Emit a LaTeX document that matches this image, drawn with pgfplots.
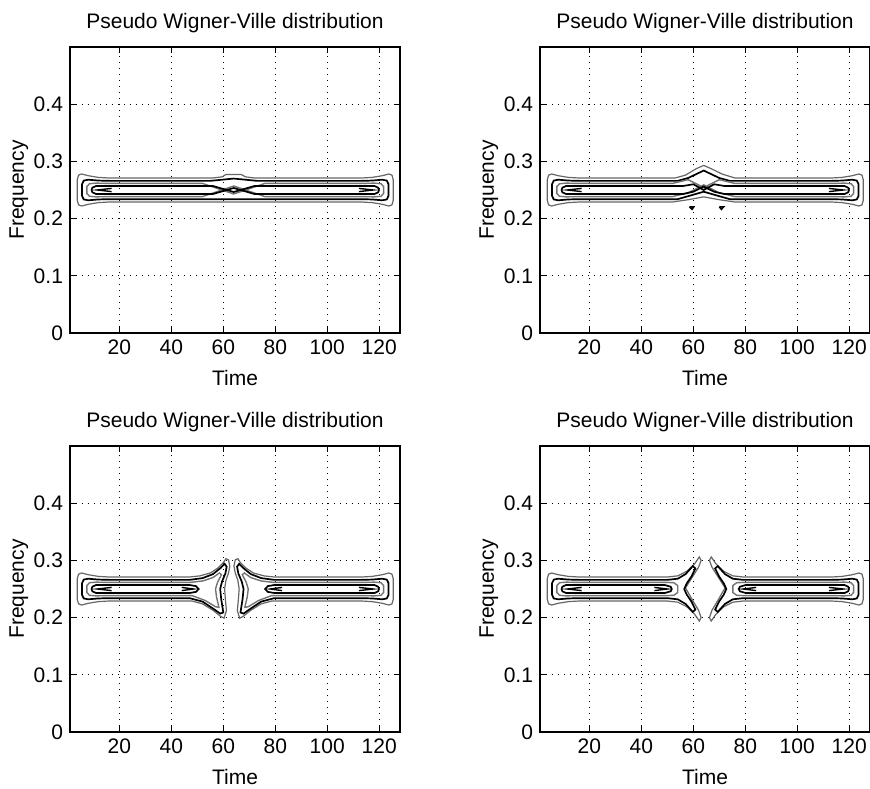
\documentclass[border=0pt]{standalone}
\usepackage{fontspec}
\setmainfont{Liberation Sans}
\usepackage{pgfplots}
\pgfplotsset{compat=1.18}

\pgfplotsset{
  pwv/.style={
    scale only axis, width=165pt, height=143pt,
    xmin=1, xmax=128, ymin=0, ymax=0.5,
    xtick={20,40,...,120}, ytick={0,0.1,0.2,0.3,0.4},
    grid=major,
    major grid style={black, line width=0.5pt, dash pattern=on 0.7pt off 2.3pt},
    tick align=inside, major tick length=3pt,
    axis line style={black, line width=0.6pt},
    every tick/.style={black, line width=0.5pt},
    /pgf/number format/assume math mode=true,
    tick label style={font=\fontsize{10.5}{12}\selectfont},
    label style={font=\fontsize{10.5}{12}\selectfont},
    title={Pseudo Wigner-Ville distribution},
    title style={font=\fontsize{10.5}{12}\selectfont, at={(axis description cs:0.5,1)}, anchor=base, yshift=3.3pt},
    xlabel={Time}, ylabel={Frequency},
    xlabel style={at={(axis description cs:0.5,0)}, anchor=base, yshift=-26pt},
    ylabel style={at={(axis description cs:-0.105,0.5)}, anchor=south},
  },
  l1/.style={black!60, line width=0.6pt},
  l2/.style={black, line width=0.85pt},
  l3/.style={black!55, line width=0.7pt},
  l4/.style={black, line width=0.85pt},
  l5/.style={black, line width=0.7pt},
}

\begin{document}
\begin{tikzpicture}
\path[use as bounding box] (-35pt,-28pt) rectangle (400pt,366pt);

%% panel 1
\begin{axis}[pwv, at={(0pt,199.5pt)}]
\addplot[l1] coordinates {(16,0.271) (56,0.271) (59.5,0.273) (61,0.277) (67,0.277) (68.5,0.273) (72,0.271)
 (113.2,0.271) (117.2,0.272) (121.2,0.275) (123.7,0.278) (124.9,0.276) (125.4,0.268) (125.4,0.232) (124.9,0.224) (123.7,0.222) (121.2,0.225) (117.2,0.228) (113.2,0.229)
 (16,0.229) (12,0.228) (8,0.225) (5.5,0.222) (4.3,0.224) (3.8,0.232) (3.8,0.268) (4.3,0.276) (5.5,0.278) (8,0.275) (12,0.272) (16,0.271)};
\addplot[l2] coordinates {(16,0.266) (55,0.266) (64,0.270) (73,0.266)
 (113.2,0.266) (117.2,0.2665) (121.2,0.268) (122.9,0.2665) (123.6,0.26) (123.6,0.24) (122.9,0.2335) (121.2,0.232) (117.2,0.2335) (113.2,0.234)
 (16,0.234) (12,0.2335) (8,0.232) (6.3,0.2335) (5.6,0.24) (5.6,0.26) (6.3,0.2665) (8,0.268) (12,0.2665) (16,0.266)};
\addplot[l3] coordinates {(16,0.2615) (52,0.2615) (64,0.243) (76,0.2615)
 (113.2,0.2615) (118.2,0.262) (120.7,0.261) (121.7,0.256) (121.7,0.244) (120.7,0.239) (118.2,0.238) (113.2,0.2385)
 (76,0.2385) (64,0.257) (52,0.2385)
 (16,0.2385) (11,0.238) (8.5,0.239) (7.5,0.244) (7.5,0.256) (8.5,0.261) (11,0.262) (16,0.2615)};
\addplot[l4] coordinates {(16,0.257) (56,0.257) (64,0.2465) (72,0.257)
 (113.2,0.257) (118.2,0.257) (119.6,0.254) (119.9,0.25) (119.6,0.246) (118.2,0.243) (113.2,0.243)
 (72,0.243) (64,0.2535) (56,0.243)
 (16,0.243) (11,0.243) (9.6,0.246) (9.3,0.25) (9.6,0.254) (11,0.257) (16,0.257)};
\addplot[l5] coordinates {(17,0.2528) (11.5,0.25) (17,0.2472)};
\addplot[l5] coordinates {(112.2,0.2528) (117.7,0.25) (112.2,0.2472)};
\end{axis}

%% panel 2
\begin{axis}[pwv, at={(235pt,199.5pt)}]
\addplot[l1] coordinates {(16,0.271) (53,0.271) (57,0.276) (61,0.287) (64,0.293) (67,0.287) (71,0.278) (76,0.271)
 (113.2,0.271) (117.2,0.272) (121.2,0.275) (123.7,0.278) (124.9,0.276) (125.4,0.268) (125.4,0.232) (124.9,0.224) (123.7,0.222) (121.2,0.225) (117.2,0.228) (113.2,0.229)
 (76,0.229) (70,0.233) (64,0.238) (58,0.233) (52,0.229)
 (16,0.229) (12,0.228) (8,0.225) (5.5,0.222) (4.3,0.224) (3.8,0.232) (3.8,0.268) (4.3,0.276) (5.5,0.278) (8,0.275) (12,0.272) (16,0.271)};
\addplot[l2] coordinates {(16,0.266) (54,0.266) (58,0.271) (64,0.284) (70,0.271) (74,0.266)
 (113.2,0.266) (117.2,0.2665) (121.2,0.268) (122.9,0.2665) (123.6,0.26) (123.6,0.24) (122.9,0.2335) (121.2,0.232) (117.2,0.2335) (113.2,0.234)
 (74,0.234) (64,0.247) (54,0.234)
 (16,0.234) (12,0.2335) (8,0.232) (6.3,0.2335) (5.6,0.24) (5.6,0.26) (6.3,0.2665) (8,0.268) (12,0.2665) (16,0.266)};
\addplot[l3] coordinates {(16,0.2615) (52,0.2615) (58,0.268) (64,0.2545) (70,0.268) (76,0.2615)
 (113.2,0.2615) (118.2,0.262) (120.7,0.261) (121.7,0.256) (121.7,0.244) (120.7,0.239) (118.2,0.238) (113.2,0.2385)
 (76,0.2385) (70,0.245) (64,0.259) (58,0.245) (52,0.2385)
 (16,0.2385) (11,0.238) (8.5,0.239) (7.5,0.244) (7.5,0.256) (8.5,0.261) (11,0.262) (16,0.2615)};
\addplot[l4] coordinates {(16,0.257) (56,0.257) (60,0.26) (64,0.25) (68,0.26) (72,0.257)
 (113.2,0.257) (118.2,0.257) (119.6,0.254) (119.9,0.25) (119.6,0.246) (118.2,0.243) (113.2,0.243)
 (72,0.243) (68,0.247) (64,0.256) (60,0.247) (56,0.243)
 (16,0.243) (11,0.243) (9.6,0.246) (9.3,0.25) (9.6,0.254) (11,0.257) (16,0.257)};
\addplot[l5] coordinates {(17,0.2528) (11.5,0.25) (17,0.2472)};
\addplot[l5] coordinates {(112.2,0.2528) (117.7,0.25) (112.2,0.2472)};
\addplot[l5] coordinates {(58.5,0.2205) (60.2,0.2205) (59.5,0.216) (58.5,0.2205)};
\addplot[l5] coordinates {(70,0.2205) (71.7,0.2205) (70.8,0.216) (70,0.2205)};
\end{axis}

%% panel 3
\begin{axis}[pwv, at={(0pt,0pt)}]
\addplot[l1] coordinates {(16,0.271) (47,0.271) (51,0.273) (55,0.278) (58,0.287) (60,0.296) (61,0.303) (62,0.301) (62.5,0.29) (62,0.278) (61,0.265) (60.5,0.25) (60.8,0.232) (61.2,0.212) (60.3,0.199) (59,0.202) (56,0.213) (52,0.224) (48,0.229)
 (16,0.229) (12,0.228) (8,0.225) (5.5,0.222) (4.3,0.224) (3.8,0.232) (3.8,0.268) (4.3,0.276) (5.5,0.278) (8,0.275) (12,0.272) (16,0.271)};
\addplot[l1] coordinates {(79.6,0.271)
 (113.2,0.271) (117.2,0.272) (121.2,0.275) (123.7,0.278) (124.9,0.276) (125.4,0.268) (125.4,0.232) (124.9,0.224) (123.7,0.222) (121.2,0.225) (117.2,0.228) (113.2,0.229)
 (78.6,0.229) (74.6,0.224) (70.6,0.213) (67.6,0.202) (66.3,0.199) (65.4,0.212) (65.8,0.232) (66.1,0.25) (65.6,0.265) (64.6,0.278) (64.1,0.29) (64.6,0.301) (65.6,0.303) (66.6,0.296) (68.6,0.287) (71.6,0.278) (75.6,0.273) (79.6,0.271)};
\addplot[l2] coordinates {(16,0.266) (47,0.266) (52,0.269) (56,0.276) (59,0.287) (60.5,0.294) (61.3,0.289) (60.8,0.277) (59.5,0.263) (58.8,0.25) (59.2,0.232) (60,0.209) (58.8,0.207) (56,0.216) (52,0.228) (47,0.234)
 (16,0.234) (12,0.2335) (8,0.232) (6.3,0.2335) (5.6,0.24) (5.6,0.26) (6.3,0.2665) (8,0.268) (12,0.2665) (16,0.266)};
\addplot[l2] coordinates {(79.6,0.266)
 (113.2,0.266) (117.2,0.2665) (121.2,0.268) (122.9,0.2665) (123.6,0.26) (123.6,0.24) (122.9,0.2335) (121.2,0.232) (117.2,0.2335) (113.2,0.234)
 (79.6,0.234) (74.6,0.228) (70.6,0.216) (67.8,0.207) (66.6,0.209) (67.4,0.232) (67.8,0.25) (67.1,0.263) (65.8,0.277) (65.3,0.289) (66.1,0.294) (67.6,0.287) (70.6,0.276) (74.6,0.269) (79.6,0.266)};
\addplot[l3] coordinates {(16,0.2615) (47,0.2615) (52,0.264) (56,0.27) (58.5,0.278) (59.3,0.275) (57.8,0.262) (57,0.25) (57.4,0.236) (58.3,0.218) (57,0.219) (53,0.23) (48,0.2385)
 (16,0.2385) (11,0.238) (8.5,0.239) (7.5,0.244) (7.5,0.256) (8.5,0.261) (11,0.262) (16,0.2615)};
\addplot[l3] coordinates {(79.6,0.2615)
 (113.2,0.2615) (118.2,0.262) (120.7,0.261) (121.7,0.256) (121.7,0.244) (120.7,0.239) (118.2,0.238) (113.2,0.2385)
 (78.6,0.2385) (73.6,0.23) (69.6,0.219) (68.3,0.218) (69.2,0.236) (69.6,0.25) (68.8,0.262) (67.3,0.275) (68.1,0.278) (70.6,0.27) (74.6,0.264) (79.6,0.2615)};
\addplot[l4] coordinates {(16,0.257) (47,0.257) (49.5,0.255) (50.5,0.25) (49.5,0.245) (47,0.243)
 (16,0.243) (11,0.243) (9.6,0.246) (9.3,0.25) (9.6,0.254) (11,0.257) (16,0.257)};
\addplot[l4] coordinates {(79.6,0.257)
 (113.2,0.257) (118.2,0.257) (119.6,0.254) (119.9,0.25) (119.6,0.246) (118.2,0.243) (113.2,0.243)
 (79.6,0.243) (77.1,0.245) (76.1,0.25) (77.1,0.255) (79.6,0.257)};
\addplot[l5] coordinates {(17,0.2528) (11.5,0.25) (17,0.2472)};
\addplot[l5] coordinates {(112.2,0.2528) (117.7,0.25) (112.2,0.2472)};
\addplot[l5] coordinates {(44,0.2528) (48.5,0.25) (44,0.2472)};
\addplot[l5] coordinates {(82.6,0.2528) (78.1,0.25) (82.6,0.2472)};
\end{axis}

%% panel 4
\begin{axis}[pwv, at={(235pt,0pt)}]
\addplot[l1] coordinates {(16,0.271) (50,0.271) (54,0.273) (57.5,0.281) (60.5,0.294) (62.3,0.306) (63,0.3) (62,0.288) (59.5,0.27) (57,0.252) (59.5,0.232) (62,0.213) (63,0.2) (62.3,0.194) (60.5,0.206) (57.5,0.219) (54,0.227) (50,0.229)
 (16,0.229) (12,0.228) (8,0.225) (5.5,0.222) (4.3,0.224) (3.8,0.232) (3.8,0.268) (4.3,0.276) (5.5,0.278) (8,0.275) (12,0.272) (16,0.271)};
\addplot[l1] coordinates {(79.2,0.271)
 (113.2,0.271) (117.2,0.272) (121.2,0.275) (123.7,0.278) (124.9,0.276) (125.4,0.268) (125.4,0.232) (124.9,0.224) (123.7,0.222) (121.2,0.225) (117.2,0.228) (113.2,0.229)
 (79.2,0.229) (75.2,0.227) (71.7,0.219) (68.7,0.206) (66.9,0.194) (66.2,0.2) (67.2,0.213) (69.7,0.232) (72.2,0.252) (69.7,0.27) (67.2,0.288) (66.2,0.3) (66.9,0.306) (68.7,0.294) (71.7,0.281) (75.2,0.273) (79.2,0.271)};
\addplot[l2] coordinates {(16,0.266) (50,0.266) (54,0.268) (57,0.276) (59.8,0.29) (60.8,0.286) (59.3,0.272) (57.5,0.26) (56.5,0.25) (57.5,0.24) (59.3,0.228) (60.8,0.214) (59.8,0.21) (57,0.224) (54,0.232) (50,0.234)
 (16,0.234) (12,0.2335) (8,0.232) (6.3,0.2335) (5.6,0.24) (5.6,0.26) (6.3,0.2665) (8,0.268) (12,0.2665) (16,0.266)};
\addplot[l2] coordinates {(79.2,0.266)
 (113.2,0.266) (117.2,0.2665) (121.2,0.268) (122.9,0.2665) (123.6,0.26) (123.6,0.24) (122.9,0.2335) (121.2,0.232) (117.2,0.2335) (113.2,0.234)
 (79.2,0.234) (75.2,0.232) (72.2,0.224) (69.4,0.21) (68.4,0.214) (69.9,0.228) (71.7,0.24) (72.7,0.25) (71.7,0.26) (69.9,0.272) (68.4,0.286) (69.4,0.29) (72.2,0.276) (75.2,0.268) (79.2,0.266)};
\addplot[l3] coordinates {(16,0.2615) (50,0.2615) (52.5,0.261) (54,0.256) (54,0.244) (52.5,0.239) (50,0.2385)
 (16,0.2385) (11,0.238) (8.5,0.239) (7.5,0.244) (7.5,0.256) (8.5,0.261) (11,0.262) (16,0.2615)};
\addplot[l3] coordinates {(79.2,0.2615)
 (113.2,0.2615) (118.2,0.262) (120.7,0.261) (121.7,0.256) (121.7,0.244) (120.7,0.239) (118.2,0.238) (113.2,0.2385)
 (79.2,0.2385) (76.7,0.239) (75.2,0.244) (75.2,0.256) (76.7,0.261) (79.2,0.2615)};
\addplot[l4] coordinates {(16,0.257) (49,0.257) (51.3,0.254) (51.7,0.25) (51.3,0.246) (49,0.243)
 (16,0.243) (11,0.243) (9.6,0.246) (9.3,0.25) (9.6,0.254) (11,0.257) (16,0.257)};
\addplot[l4] coordinates {(80.2,0.257)
 (113.2,0.257) (118.2,0.257) (119.6,0.254) (119.9,0.25) (119.6,0.246) (118.2,0.243) (113.2,0.243)
 (80.2,0.243) (77.9,0.246) (77.5,0.25) (77.9,0.254) (80.2,0.257)};
\addplot[l5] coordinates {(17,0.2528) (11.5,0.25) (17,0.2472)};
\addplot[l5] coordinates {(112.2,0.2528) (117.7,0.25) (112.2,0.2472)};
\addplot[l5] coordinates {(45,0.2528) (50,0.25) (45,0.2472)};
\addplot[l5] coordinates {(84.2,0.2528) (79.2,0.25) (84.2,0.2472)};
\end{axis}
\end{tikzpicture}
\end{document}
